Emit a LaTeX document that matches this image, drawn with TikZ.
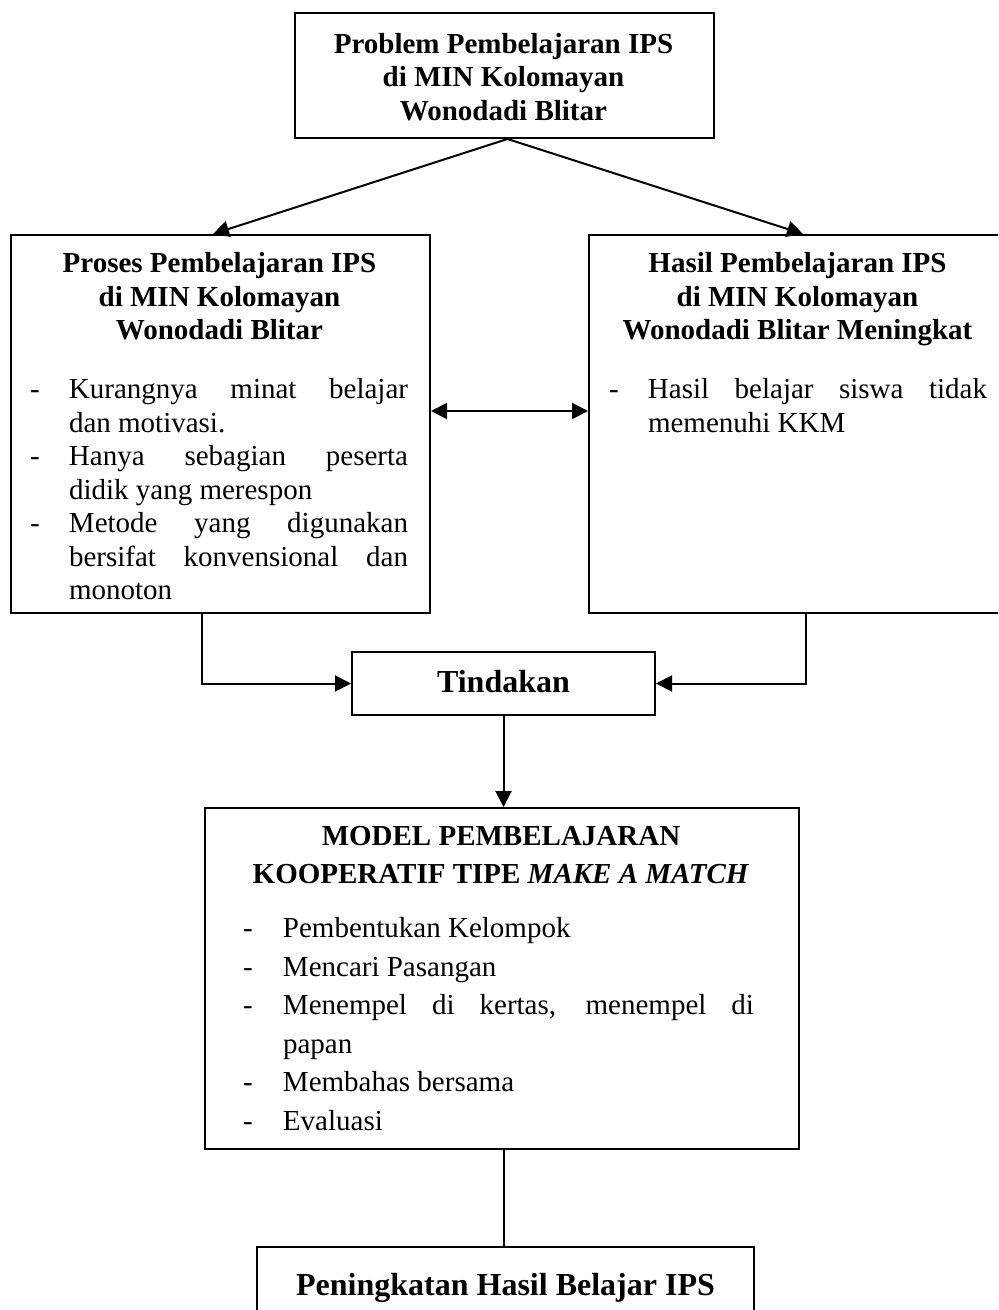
\documentclass[tikz,border=0pt]{standalone}
\usepackage{fontspec}
\setmainfont{Liberation Serif}
\usetikzlibrary{arrows.meta,calc}
\newlength\hangw
\newcommand{\dashpar}[1]{\par\hangindent=\hangw\hangafter=1\noindent\makebox[\hangw][l]{\rule{0pt}{12pt}-}#1\par}
\begin{document}
\begin{tikzpicture}[x=0.5pt, y=-0.5pt, line width=1pt,
  box/.style={draw, rectangle, inner sep=0pt, anchor=north west},
  ttl/.style={anchor=north, align=center, inner sep=0pt, font=\bfseries\fontsize{14.5}{16.75}\selectfont},
  body/.style={anchor=north west, align=justify, inner sep=0pt, font=\fontsize{14.5}{16.75}\selectfont},
  arr/.style={-{Triangle[length=8pt,width=8pt]}},
  dblarr/.style={{Triangle[length=8pt,width=8pt]}-{Triangle[length=8pt,width=8pt]}}]
\useasboundingbox (0,0) rectangle (998,1310);
\clip (0,0) rectangle (998,1310);
\fill[white] (0,0) rectangle (998,1310);

% boxes
\node[box, minimum width=209.5pt, minimum height=62.5pt] (prob) at (294,12) {};
\node[box, minimum width=209.5pt, minimum height=189pt] (proses) at (10,234) {};
\node[box, minimum width=209.5pt, minimum height=189pt] (hasil) at (588,234) {};
\node[box, minimum width=151.5pt, text height=20pt, text depth=11.5pt, font=\bfseries\fontsize{16}{19}\selectfont] (tind) at (351,651) {Tindakan};
\node[box, minimum width=297pt, minimum height=170.5pt] (model) at (204,807) {};
\node[box, minimum width=248.5pt, text height=24pt, text depth=20pt, font=\bfseries\fontsize{16}{19}\selectfont] (akhir) at (256,1246) {Peningkatan Hasil Belajar IPS};

% texts
\node[ttl] (probt) at (503.5,28.5) {\rule{0pt}{12pt}Problem Pembelajaran IPS\\di MIN Kolomayan\\Wonodadi Blitar};
\node[ttl] (prosest) at (219.5,248) {\rule{0pt}{12pt}Proses Pembelajaran IPS\\di MIN Kolomayan\\Wonodadi Blitar};
\node[ttl] (hasilt) at (797.5,248) {\rule{0pt}{12pt}Hasil Pembelajaran IPS\\di MIN Kolomayan\\Wonodadi Blitar Meningkat};
\node[body, text width=189pt] (prosesb) at (29,364) {\setlength\hangw{19.5pt}%
\dashpar{Kurangnya minat belajar\linebreak dan motivasi.}%
\dashpar{Hanya sebagian peserta\linebreak didik yang merespon}%
\dashpar{Metode yang digunakan\linebreak bersifat konvensional dan\linebreak monoton}};
\node[body, text width=189pt] (hasilb) at (608,364) {\setlength\hangw{19.5pt}%
\dashpar{Hasil belajar siswa tidak\linebreak memenuhi KKM}};
\node[ttl, font=\bfseries\fontsize{14.5}{19.25}\selectfont] (modelt) at (501,820) {\rule{0pt}{12pt}MODEL PEMBELAJARAN\\KOOPERATIF TIPE \textit{MAKE A MATCH}};
\node[body, text width=255.5pt, font=\fontsize{14.5}{19.25}\selectfont] (modelb) at (242,898) {\setlength\hangw{20pt}%
\dashpar{Pembentukan Kelompok}%
\dashpar{Mencari Pasangan}%
\dashpar{Menempel di kertas, menempel di\linebreak papan}%
\dashpar{Membahas bersama}%
\dashpar{Evaluasi}};

% connectors
\draw[arr] ([xshift=1.5pt]prob.south) -- ([xshift=-3.75pt]proses.north);
\draw[arr] ([xshift=1.5pt]prob.south) -- ([xshift=2.25pt]hasil.north);
\draw[dblarr] ([yshift=6.5pt]proses.east) -- ([yshift=6.5pt]hasil.west);
\draw[arr] ([xshift=-9.25pt]proses.south) |- (tind.west);
\draw[arr] ([xshift=3.75pt]hasil.south) |- (tind.east);
\draw[arr] (tind.south) -- (tind.south |- model.north);
\draw ([xshift=1pt]model.south) -- ([xshift=1pt]model.south |- akhir.north);
\end{tikzpicture}
\end{document}
